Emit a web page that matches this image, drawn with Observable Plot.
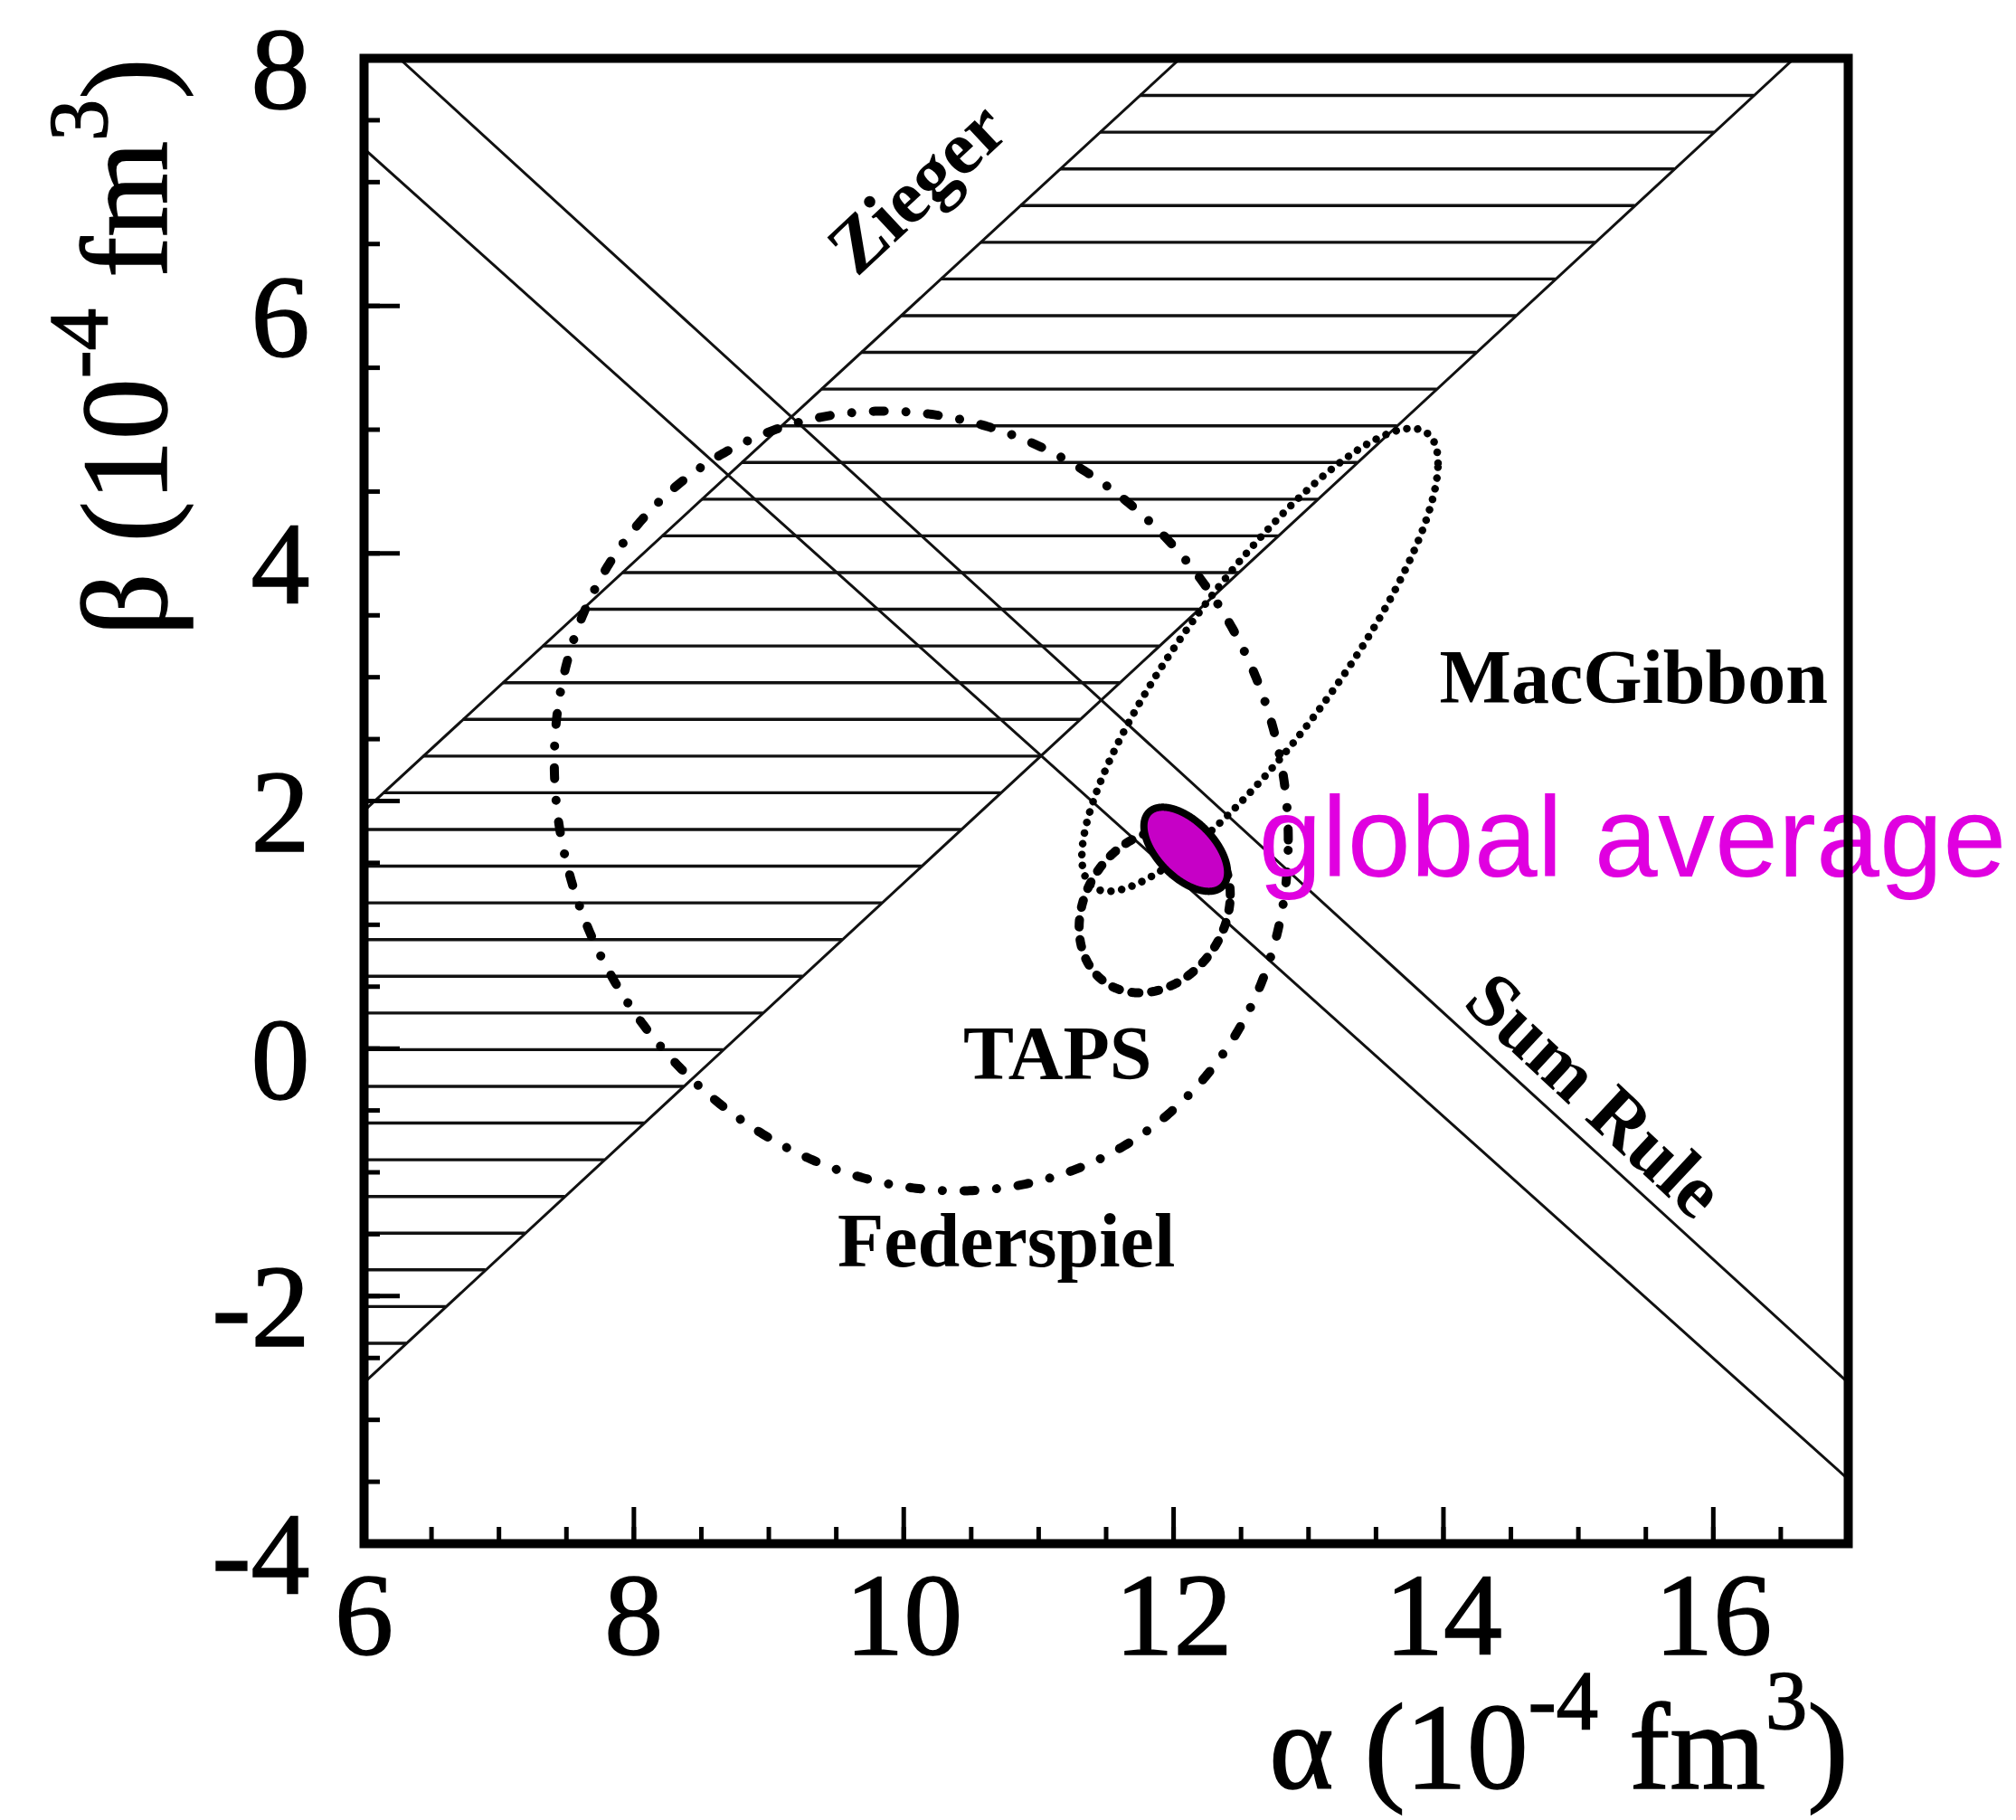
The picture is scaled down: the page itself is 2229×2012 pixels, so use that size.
<!DOCTYPE html>
<html>
<head>
<meta charset="utf-8">
<script src="https://cdn.jsdelivr.net/npm/d3@7"></script>
<script src="https://cdn.jsdelivr.net/npm/@observablehq/plot@0.6"></script>
<style>
  html, body { margin: 0; padding: 0; background: #fff; overflow: hidden; }
</style>
</head>
<body>
<div id="chart"></div>
<script>
// Proton polarisabilities: α versus β, in units of 10^-4 fm^3

// Axis ticks
const xMajorTicks = [6, 8, 10, 12, 14, 16];
const yMajorTicks = [-4, -2, 0, 2, 4, 6, 8];
const xMinorTicks = d3.range(6, 17.001, 0.5);
const yMinorTicks = d3.range(-4, 8.001, 0.5);

// Straight constraint bands, each edge given by two (α, β) points
const edgeNames = ["Zieger upper", "Zieger lower", "Sum Rule upper", "Sum Rule lower"];
const edgeAlpha0 = [6, 6, 6.26, 6];
const edgeBeta0 = [1.92, -2.70, 8, 7.27];
const edgeAlpha1 = [12.05, 16.60, 17, 17];
const edgeBeta1 = [8, 8, -2.70, -3.48];

// Horizontal hatching inside the Zieger band
const hatchTop = 7.70;
const hatchStep = 0.2965;

// Error contours: centre, half extents in α and β, and α–β correlation
const contourNames = ["Federspiel", "TAPS", "MacGibbon", "global average"];
const contourAlpha = [10.13, 11.86, 12.64, 12.09];
const contourBeta = [2.00, 1.11, 3.14, 1.61];
const contourHalfA = [2.72, 0.56, 1.32, 0.31];
const contourHalfB = [3.15, 0.66, 1.87, 0.34];
const contourRho = [-0.10, 0.20, 0.85, -0.55];

// Text labels placed in (α, β)
const labelTexts = ["Zieger", "Sum Rule", "MacGibbon", "TAPS", "Federspiel"];
const labelAlpha = [10.10, 15.12, 15.41, 11.14, 10.76];
const labelBeta = [6.95, -0.38, 2.99, -0.05, -1.56];
const labelAngle = [-43, 43, 0, 0, 0];

const averageLabel = "global average";
const averageLabelAlpha = 12.63;
const averageLabelBeta = 1.39;

// Axis titles: pieces, with superscripts flagged
const xTitleParts = [["α (10", false], ["-4", true], [" fm", false], ["3", true], [")", false]];
const yTitleParts = [["β (10", false], ["-4", true], [" fm", false], ["3", true], [")", false]];

// ---- derived tables ----
const xTitle = xTitleParts.map(p => p[0]).join("");
const yTitle = yTitleParts.map(p => p[0]).join("");

const edges = edgeNames.map((name, i) => ({
  name, a0: edgeAlpha0[i], b0: edgeBeta0[i], a1: edgeAlpha1[i], b1: edgeBeta1[i]
}));
const edgePoints = edges.flatMap(e => [
  {name: e.name, alpha: e.a0, beta: e.b0},
  {name: e.name, alpha: e.a1, beta: e.b1}
]);
const alphaOnEdge = (e, beta) => e.a0 + (beta - e.b0) * (e.a1 - e.a0) / (e.b1 - e.b0);

const zUpper = edges[0], zLower = edges[1];
const hatchLevels = d3.range(hatchTop, zLower.b0, -hatchStep);

function contour(i, n = 900) {
  const r = contourRho[i];
  return d3.range(n + 1).map(k => {
    const t = 2 * Math.PI * k / n;
    return {
      alpha: contourAlpha[i] + contourHalfA[i] * Math.cos(t),
      beta: contourBeta[i] + contourHalfB[i] * (r * Math.cos(t) + Math.sqrt(1 - r * r) * Math.sin(t))
    };
  });
}

const labels = labelTexts.map((text, i) => ({text, alpha: labelAlpha[i], beta: labelBeta[i], angle: labelAngle[i]}));

const W = 2229, H = 2012;
const M = {top: 64, right: 186, bottom: 306, left: 402};
const innerW = W - M.left - M.right;
const innerH = H - M.top - M.bottom;
const serif = "'Liberation Serif', 'Times New Roman', Times, serif";
const titleSize = 136;

const chart = Plot.plot({
  width: W,
  height: H,
  marginTop: M.top,
  marginRight: M.right,
  marginBottom: M.bottom,
  marginLeft: M.left,
  x: {domain: [6, 17], label: null},
  y: {domain: [-4, 8], label: null},
  style: {fontFamily: serif, background: "#fff", color: "#000", overflow: "visible"},
  marks: [
    // hatching of the Zieger band
    Plot.ruleY(hatchLevels, {
      y: d => d,
      x1: d => Math.max(6, alphaOnEdge(zUpper, d)),
      x2: d => Math.min(17, alphaOnEdge(zLower, d)),
      stroke: "#111", strokeWidth: 3.4, clip: true
    }),
    // band edges
    Plot.line(edgePoints, {x: "alpha", y: "beta", z: "name", stroke: "#111", strokeWidth: 3, clip: true}),
    // Federspiel: dash-dot
    Plot.line(contour(0), {x: "alpha", y: "beta", stroke: "#000", strokeWidth: 10,
      strokeDasharray: "12 24 0.01 24", strokeLinecap: "round", clip: true}),
    // TAPS: dashed
    Plot.line(contour(1), {x: "alpha", y: "beta", stroke: "#000", strokeWidth: 10,
      strokeDasharray: "8 14", strokeLinecap: "round", clip: true}),
    // MacGibbon: dotted
    Plot.line(contour(2), {x: "alpha", y: "beta", stroke: "#000", strokeWidth: 8.5,
      strokeDasharray: "0.01 12", strokeLinecap: "round", clip: true}),
    // global average: filled
    Plot.line(contour(3), {x: "alpha", y: "beta", stroke: "#000", strokeWidth: 8, fill: "#c600c6"}),
    // labels
    Plot.text(labels, {x: "alpha", y: "beta", text: "text", rotate: "angle",
      fontSize: 84, fontWeight: "bold", fontFamily: serif, fill: "#000"}),
    Plot.text([{text: averageLabel, alpha: averageLabelAlpha, beta: averageLabelBeta}], {
      x: "alpha", y: "beta", text: "text", textAnchor: "start", lineAnchor: "bottom",
      fontSize: 126, fontFamily: "'Liberation Sans', Arial, sans-serif", fill: "#e000e0"
    }),
    // inward tick marks
    Plot.tickX(xMinorTicks, {x: d => d, insetTop: innerH - 18, stroke: "#000", strokeWidth: 5}),
    Plot.tickX(xMajorTicks, {x: d => d, insetTop: innerH - 40, stroke: "#000", strokeWidth: 5}),
    Plot.tickY(yMinorTicks, {y: d => d, insetRight: innerW - 18, stroke: "#000", strokeWidth: 5}),
    Plot.tickY(yMajorTicks, {y: d => d, insetRight: innerW - 40, stroke: "#000", strokeWidth: 5}),
    // tick labels
    Plot.axisX(xMajorTicks, {tickSize: 0, tickPadding: 30, fontSize: 130, tickFormat: d => String(d), label: null}),
    Plot.axisY(yMajorTicks, {tickSize: 0, tickPadding: 60, dy: 14, fontSize: 130, tickFormat: d => String(d), label: null}),
    // axis titles
    Plot.text([xTitle], {x: null, y: null, text: d => d, frameAnchor: "bottom-right",
      textAnchor: "end", lineAnchor: "bottom", dy: 270, fontSize: titleSize, fontFamily: serif}),
    Plot.text([yTitle], {x: null, y: null, text: d => d, frameAnchor: "top-left", rotate: -90,
      textAnchor: "end", lineAnchor: "bottom", dx: -219, fontSize: titleSize, fontFamily: serif}),
    // frame
    Plot.frame({stroke: "#000", strokeWidth: 10})
  ]
});

// Heavier print for tick labels and titles
const svg = d3.select(chart);
svg.selectAll('g[aria-label="x-axis tick label"], g[aria-label="y-axis tick label"]')
  .attr("font-family", serif)
  .attr("stroke", "#000").attr("stroke-width", 1.5).attr("paint-order", "stroke");

// Rebuild the titles with raised superscripts
function setTitle(plain, parts, size) {
  svg.selectAll("text").filter(function () { return this.textContent === plain; }).each(function () {
    const t = d3.select(this).text(null)
      .attr("stroke", "#000").attr("stroke-width", 1.5).attr("paint-order", "stroke");
    let raised = false;
    for (const [s, sup] of parts) {
      const span = t.append("tspan").text(s);
      if (sup) span.attr("font-size", 0.68 * size);
      if (sup && !raised) { span.attr("dy", -0.48 * size); raised = true; }
      else if (!sup && raised) { span.attr("dy", 0.48 * size); raised = false; }
    }
  });
}
setTitle(xTitle, xTitleParts, titleSize);
setTitle(yTitle, yTitleParts, titleSize);

document.getElementById("chart").appendChild(chart);
</script>
</body>
</html>
